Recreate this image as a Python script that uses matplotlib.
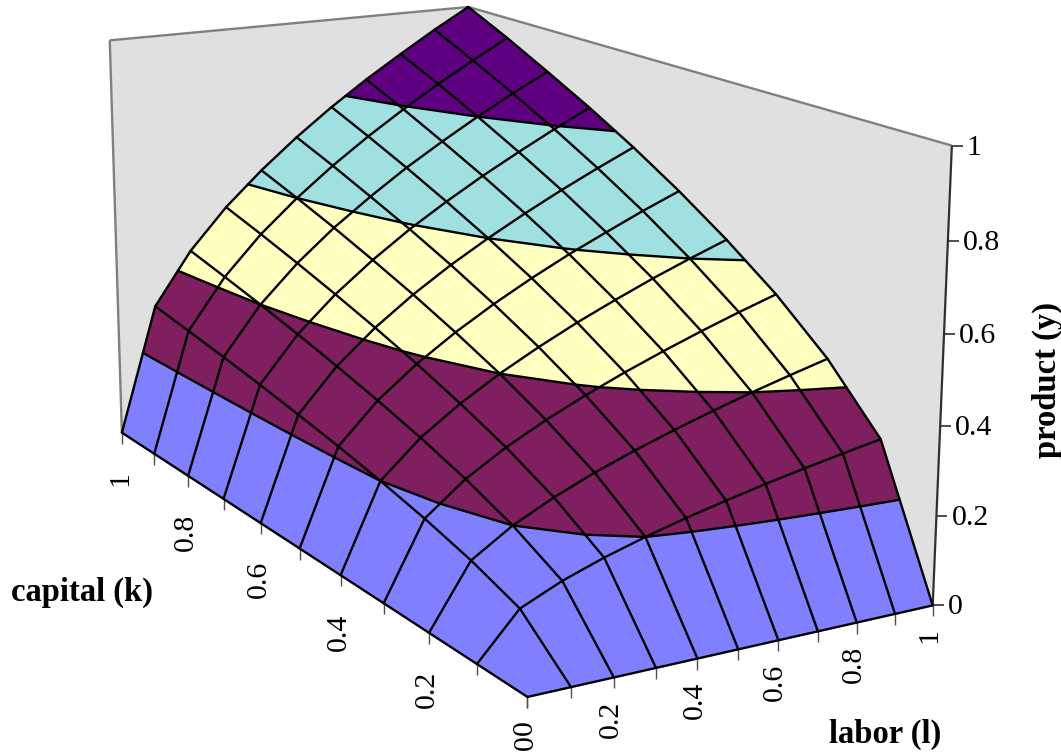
import numpy as np
import matplotlib
matplotlib.use("Agg")
import matplotlib.pyplot as plt
from mpl_toolkits.mplot3d.art3d import Poly3DCollection, Line3DCollection

plt.rcParams['font.family'] = ['Liberation Serif', 'DejaVu Serif']

# ---------- data ----------
labor = [0, .1, .2, .3, .4, .5, .6, .7, .8, .9, 1]
capital = [0, .1, .2, .3, .4, .5, .6, .7, .8, .9, 1]
# product[capital index][labor index]
product = [
    [0, 0, 0, 0, 0, 0, 0, 0, 0, 0, 0],
    [0, .100, .141, .173, .200, .224, .245, .265, .283, .300, .316],
    [0, .141, .200, .245, .283, .316, .346, .374, .400, .424, .447],
    [0, .173, .245, .300, .346, .387, .424, .458, .490, .520, .548],
    [0, .200, .283, .346, .400, .447, .490, .529, .566, .600, .632],
    [0, .224, .316, .387, .447, .500, .548, .592, .632, .671, .707],
    [0, .245, .346, .424, .490, .548, .600, .648, .693, .735, .775],
    [0, .265, .374, .458, .529, .592, .648, .700, .748, .794, .837],
    [0, .283, .400, .490, .566, .632, .693, .748, .800, .849, .894],
    [0, .300, .424, .520, .600, .671, .735, .794, .849, .900, .949],
    [0, .316, .447, .548, .632, .707, .775, .837, .894, .949, 1.0],
]
band_edges = [0, .2, .4, .6, .8, 1.0]
band_colors = ['#8080FF', '#7F1F5F', '#FFFFC0', '#A0E0E0', '#5F0080']
tick_values = [0, .2, .4, .6, .8, 1]
tick_labels = ['0', '0.2', '0.4', '0.6', '0.8', '1']
minor_ticks = [0, .1, .2, .3, .4, .5, .6, .7, .8, .9, 1]

W, H = 1061, 753

# ---------- camera: (labor, capital, product) -> image pixels ----------
world = np.array([[0, 0, 0], [1, 0, 0], [0, 1, 0], [1, 0, 1], [0, 1, 1], [1, 1, 1]], float)
image = np.array([[527, 697], [933, 605], [122, 433], [952, 146], [110, 40], [468, 7]], float)
rows = []
for (X, Y, Z), (u, v) in zip(world, image):
    rows.append([X, Y, Z, 1, 0, 0, 0, 0, -u * X, -u * Y, -u * Z, -u])
    rows.append([0, 0, 0, 0, X, Y, Z, 1, -v * X, -v * Y, -v * Z, -v])
P = np.linalg.svd(np.array(rows))[2][-1].reshape(3, 4)
if P[2, 3] < 0:
    P = -P
M = np.vstack([P[0], P[1], [P[2, 3], P[2, 3], -0.1 * P[2, 3], 0], P[2]])


def project(p):
    h = P @ np.append(p, 1.0)
    return h[:2] / h[2]


def offset(p, dx, dy):
    """3-D point whose image lies (dx, dy) pixels from the image of p."""
    p = np.array(p, float)
    J = np.array([(project(p + e * 1e-4) - project(p)) / 1e-4 for e in np.eye(3)]).T
    return p + np.linalg.pinv(J) @ np.array([dx, dy])


# ---------- figure ----------
fig = plt.figure(figsize=(W / 100, H / 100), dpi=100)
ax = fig.add_axes([0, (H - W) / 2 / H, 1, W / H], projection='3d', computed_zorder=False)
ax.set_axis_off()
ax.patch.set_visible(False)
ax.get_proj = lambda: M
ax._viewLim.set_points(np.array([[0, H + (W - H) / 2], [W, -(W - H) / 2]], float))
ax.set_autoscale_on(False)

# walls
walls = [[(0, 1, 0), (1, 1, 0), (1, 1, 1), (0, 1, 1)], [(1, 0, 0), (1, 1, 0), (1, 1, 1), (1, 0, 1)]]
ax.add_collection3d(Poly3DCollection(walls, facecolors='#E0E0E0', edgecolors='none', zorder=1))
edge_gray = '#808080'
ax.add_collection3d(Line3DCollection(
    [[(0, 1, 0), (0, 1, 1)], [(0, 1, 1), (1, 1, 1)], [(1, 1, 1), (1, 0, 1)]],
    colors=edge_gray, linewidths=1.7, zorder=1.5))
ax.add_collection3d(Line3DCollection([[(1, 0, 0), (1, 0, 1)]], colors='#303030',
                                     linewidths=1.6, zorder=1.5))


# surface, cut into bands
def clip(poly, level, keep_above):
    out = []
    for a, b in zip(poly, poly[1:] + poly[:1]):
        ina = a[2] >= level if keep_above else a[2] <= level
        inb = b[2] >= level if keep_above else b[2] <= level
        if ina:
            out.append(a)
        if ina != inb:
            t = (level - a[2]) / (b[2] - a[2])
            out.append(tuple(a[i] + t * (b[i] - a[i]) for i in range(3)))
    return out


polys, cols = [], []
contours = []
n = len(labor)
for i in range(n - 1):
    for j in range(n - 1):
        quad = [(labor[j], capital[i], product[i][j]),
                (labor[j + 1], capital[i], product[i][j + 1]),
                (labor[j + 1], capital[i + 1], product[i + 1][j + 1]),
                (labor[j], capital[i + 1], product[i + 1][j])]
        for b, col in enumerate(band_colors):
            piece = clip(clip(quad, band_edges[b], True), band_edges[b + 1], False)
            if len(piece) >= 3:
                polys.append(piece)
                cols.append(col)
        for level in band_edges[1:-1]:
            cross = []
            for a, c in zip(quad, quad[1:] + quad[:1]):
                if (a[2] < level) != (c[2] < level):
                    t = (level - a[2]) / (c[2] - a[2])
                    cross.append(tuple(a[k] + t * (c[k] - a[k]) for k in range(3)))
            if len(cross) == 2:
                contours.append(cross)

ax.add_collection3d(Poly3DCollection(polys, facecolors=cols, edgecolors=cols,
                                     linewidths=0.3, zorder=2))
grid = []
for i in range(n):
    grid.append([(labor[j], capital[i], product[i][j]) for j in range(n)])
    grid.append([(labor[i], capital[k], product[k][i]) for k in range(n)])
ax.add_collection3d(Line3DCollection(grid, colors='black', linewidths=1.7, zorder=3,
                                     capstyle='round', joinstyle='round'))
ax.add_collection3d(Line3DCollection(contours, colors='black', linewidths=1.7, zorder=3,
                                     capstyle='round'))

# ticks
ticks = []
for t in minor_ticks:
    for base in [(t, 0, 0), (0, t, 0)]:
        ticks.append([base, tuple(offset(base, 0, 11))])
ax.add_collection3d(Line3DCollection(ticks, colors='#505050', linewidths=1.0, zorder=1.8))
zt = []
for t in tick_values:
    base = (1, 0, t)
    zt.append([base, tuple(offset(base, 11, 0))])
ax.add_collection3d(Line3DCollection(zt, colors='#303030', linewidths=1.2, zorder=1.8))

# tick labels
tfs = 21.5
for t, s in zip(tick_values, tick_labels):
    u, v = project((0, t, 0))
    ax.text2D(u - 2, v + 38, s, rotation=90, ha='center', va='top', fontsize=tfs, zorder=5,
              transform=ax.transData)
    u, v = project((t, 0, 0))
    ax.text2D(u - 3, v + 23, s, rotation=90, ha='center', va='top', fontsize=tfs, zorder=5,
              transform=ax.transData)
    u, v = project((1, 0, t))
    ax.text2D(u + 15, v + 2, s, ha='left', va='center', fontsize=tfs, zorder=5,
              transform=ax.transData)

# axis titles
fig.text(82 / W, 1 - 592 / H, 'capital (k)', fontsize=23.5, fontweight='bold', ha='center', va='center')
fig.text(885 / W, 1 - 734 / H, 'labor (l)', fontsize=23.5, fontweight='bold', ha='center', va='center')
fig.text(1047 / W, 1 - 380 / H, 'product (y)', fontsize=23.5, fontweight='bold', rotation=90,
         ha='center', va='center')

fig.savefig('out.png', dpi=100)
